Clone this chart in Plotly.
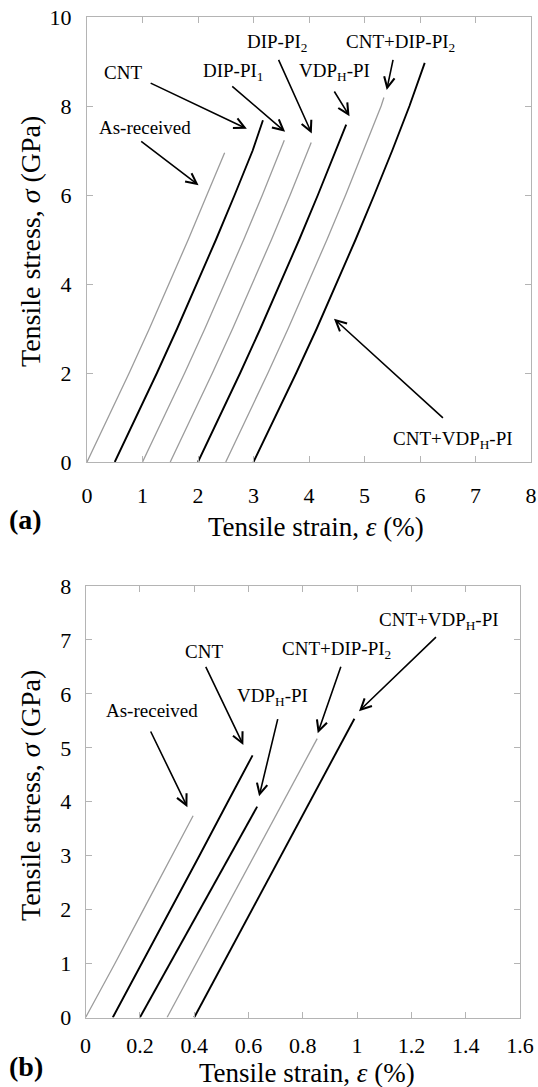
import plotly.graph_objects as go

# ---------------- Panel (a) data: tensile strain (%) vs tensile stress (GPa)
a_names = ["As-received", "CNT", "DIP-PI1", "DIP-PI2", "VDPH-PI", "CNT+DIP-PI2", "CNT+VDPH-PI"]
a_dark = [False, True, False, False, True, False, True]

a_strain_as_received = [0.000, 0.385, 0.760, 1.125, 1.480, 1.825, 2.160, 2.480]
a_stress_as_received = [0, 1, 2, 3, 4, 5, 6, 6.95]
a_strain_cnt = [0.500, 0.885, 1.260, 1.625, 1.980, 2.325, 2.660, 2.985, 3.170]
a_stress_cnt = [0, 1, 2, 3, 4, 5, 6, 7, 7.68]
a_strain_dip1 = [1.000, 1.385, 1.760, 2.125, 2.480, 2.825, 3.160, 3.485, 3.555]
a_stress_dip1 = [0, 1, 2, 3, 4, 5, 6, 7, 7.23]
a_strain_dip2 = [1.500, 1.885, 2.260, 2.625, 2.980, 3.325, 3.660, 3.985, 4.040]
a_stress_dip2 = [0, 1, 2, 3, 4, 5, 6, 7, 7.18]
a_strain_vdp = [2.000, 2.385, 2.760, 3.125, 3.480, 3.825, 4.160, 4.485, 4.670]
a_stress_vdp = [0, 1, 2, 3, 4, 5, 6, 7, 7.58]
a_strain_cnt_dip = [2.500, 2.885, 3.260, 3.625, 3.980, 4.325, 4.660, 4.985, 5.300, 5.350]
a_stress_cnt_dip = [0, 1, 2, 3, 4, 5, 6, 7, 8, 8.19]
a_strain_cnt_vdp = [3.000, 3.390, 3.770, 4.140, 4.495, 4.840, 5.175, 5.500, 5.810, 6.085]
a_stress_cnt_vdp = [0, 1, 2, 3, 4, 5, 6, 7, 8, 8.97]

# ---------------- Panel (b) data
b_names = ["As-received", "CNT", "VDPH-PI", "CNT+DIP-PI2", "CNT+VDPH-PI"]
b_dark = [False, True, True, False, True]

b_strain_as_received = [0.000, 0.055, 0.108, 0.213, 0.317, 0.396]
b_stress_as_received = [0, 0.5, 1, 2, 3, 3.74]
b_strain_cnt = [0.100, 0.207, 0.313, 0.419, 0.524, 0.615]
b_stress_cnt = [0, 1, 2, 3, 4, 4.86]
b_strain_vdp = [0.200, 0.310, 0.421, 0.531, 0.632]
b_stress_vdp = [0, 1, 2, 3, 3.91]
b_strain_cnt_dip = [0.300, 0.407, 0.514, 0.621, 0.728, 0.834, 0.853]
b_stress_cnt_dip = [0, 1, 2, 3, 4, 5, 5.17]
b_strain_cnt_vdp = [0.400, 0.507, 0.613, 0.720, 0.826, 0.933, 0.990]
b_stress_cnt_vdp = [0, 1, 2, 3, 4, 5, 5.54]

# ---------------- Label texts and their placements (text pos, arrow tail, arrow head)
a_labels = ["As-received", "CNT", "DIP-PI<sub>1</sub>", "DIP-PI<sub>2</sub>",
            "VDP<sub>H</sub>-PI", "CNT+DIP-PI<sub>2</sub>", "CNT+VDP<sub>H</sub>-PI"]
a_text_xy = [(1.05, 7.51), (0.65, 8.76), (2.64, 8.76), (3.44, 9.42), (4.46, 8.76), (5.64, 9.42), (6.59, 0.49)]
a_tail_xy = [(0.95, 7.23), (1.12, 8.53), (2.59, 8.47), (3.44, 9.07), (4.44, 8.36), (5.52, 9.07), (6.44, 0.96)]
a_head_xy = [(2.01, 6.22), (2.88, 7.49), (3.57, 7.42), (4.05, 7.38), (4.73, 7.77), (5.40, 8.36), (4.45, 3.22)]

b_labels = ["As-received", "CNT", "VDP<sub>H</sub>-PI", "CNT+DIP-PI<sub>2</sub>", "CNT+VDP<sub>H</sub>-PI"]
b_text_xy = [(0.243, 5.69), (0.437, 6.79), (0.690, 5.94), (0.923, 6.82), (1.303, 7.35)]
b_tail_xy = [(0.237, 5.33), (0.440, 6.53), (0.709, 5.56), (0.942, 6.53), (1.296, 7.08)]
b_head_xy = [(0.375, 3.90), (0.581, 5.05), (0.639, 4.10), (0.855, 5.27), (1.007, 5.68)]

a_xticks = [0, 1, 2, 3, 4, 5, 6, 7, 8]
a_yticks = [0, 2, 4, 6, 8, 10]
b_xticks = [0, 0.2, 0.4, 0.6, 0.8, 1, 1.2, 1.4, 1.6]
b_yticks = [0, 1, 2, 3, 4, 5, 6, 7, 8]

FONT = "Liberation Serif"
GRAY = "#9c9c9c"
AXC = "#b4b4b4"

a_series = [
    (a_strain_as_received, a_stress_as_received),
    (a_strain_cnt, a_stress_cnt),
    (a_strain_dip1, a_stress_dip1),
    (a_strain_dip2, a_stress_dip2),
    (a_strain_vdp, a_stress_vdp),
    (a_strain_cnt_dip, a_stress_cnt_dip),
    (a_strain_cnt_vdp, a_stress_cnt_vdp),
]
b_series = [
    (b_strain_as_received, b_stress_as_received),
    (b_strain_cnt, b_stress_cnt),
    (b_strain_vdp, b_stress_vdp),
    (b_strain_cnt_dip, b_stress_cnt_dip),
    (b_strain_cnt_vdp, b_stress_cnt_vdp),
]

fig = go.Figure()
for name, dark, (xs, ys) in zip(a_names, a_dark, a_series):
    fig.add_trace(go.Scatter(x=xs, y=ys, mode="lines", name=name, xaxis="x", yaxis="y",
                             line=dict(color="black" if dark else GRAY, width=1.9 if dark else 1.3),
                             showlegend=False))
for name, dark, (xs, ys) in zip(b_names, b_dark, b_series):
    fig.add_trace(go.Scatter(x=xs, y=ys, mode="lines", name=name, xaxis="x2", yaxis="y2",
                             line=dict(color="black" if dark else GRAY, width=1.9 if dark else 1.3),
                             showlegend=False))

# Page body margin is reset to 0 (see post_script), so figure pixels = page pixels.
W, H = 538, 1087


def fx(px):
    return px / W


def fy(py):
    return 1 - py / H


def axis_style(**kw):
    d = dict(showline=True, linecolor=AXC, linewidth=1, mirror="ticks", ticks="inside",
             ticklen=6, tickcolor=AXC, tickwidth=1, showgrid=False, zeroline=False,
             automargin=False, ticklabeloverflow="allow",
             tickfont=dict(family=FONT, size=22, color="black"))
    d.update(kw)
    return d


fig.update_layout(
    template="none",
    width=W, height=H, margin=dict(l=0, r=0, t=0, b=0, autoexpand=False),
    paper_bgcolor="white", plot_bgcolor="white",
    font=dict(family=FONT, color="black"),
    xaxis=axis_style(domain=[fx(87), fx(531)], range=[0, 8], tickvals=a_xticks,
                     anchor="y", ticklabelstandoff=14),
    yaxis=axis_style(domain=[fy(462), fy(17)], range=[0, 10], tickvals=a_yticks,
                     anchor="x", ticklabelstandoff=10),
    xaxis2=axis_style(domain=[fx(85.6), fx(520)], range=[0, 1.6], tickvals=b_xticks,
                      anchor="y2", ticklabelstandoff=8),
    yaxis2=axis_style(domain=[fy(1017.5), fy(586)], range=[0, 8], tickvals=b_yticks,
                      anchor="x2", ticklabelstandoff=9),
)

ann = []


def add_labels(labels, txy, tail, head, xr, yr):
    for lab, (tx, ty), (ax, ay), (hx, hy) in zip(labels, txy, tail, head):
        ann.append(dict(x=tx, y=ty, xref=xr, yref=yr, text=lab, showarrow=False,
                        font=dict(family=FONT, size=19, color="black")))
        ann.append(dict(x=hx, y=hy, ax=ax, ay=ay, xref=xr, yref=yr, axref=xr, ayref=yr,
                        text="", showarrow=True, arrowhead=5, arrowsize=1.3,
                        arrowwidth=1.6, arrowcolor="black", standoff=0, startstandoff=0))


add_labels(a_labels, a_text_xy, a_tail_xy, a_head_xy, "x", "y")
add_labels(b_labels, b_text_xy, b_tail_xy, b_head_xy, "x2", "y2")

# axis titles and panel letters
for (px, py, txt, ang) in [
    (316, 527, "Tensile strain, <i>ε</i> (%)", 0),
    (307, 1073, "Tensile strain, <i>ε</i> (%)", 0),
    (30, 242, "Tensile stress, <i>σ</i> (GPa)", -90),
    (30, 796, "Tensile stress, <i>σ</i> (GPa)", -90),
]:
    ann.append(dict(x=fx(px), y=fy(py), xref="paper", yref="paper", text=txt,
                    showarrow=False, textangle=ang, xanchor="center", yanchor="middle",
                    font=dict(family=FONT, size=27 if ang == 0 else 28, color="black")))
for (px, py, txt) in [(25, 519, "<b>(a)</b>"), (26, 1066, "<b>(b)</b>")]:
    ann.append(dict(x=fx(px), y=fy(py), xref="paper", yref="paper", text=txt,
                    showarrow=False, xanchor="center", yanchor="middle",
                    font=dict(family=FONT, size=28, color="black")))

fig.update_layout(annotations=ann, hovermode=False, dragmode=False)
fig.write_html("out.html",
               config={"displayModeBar": False, "staticPlot": True},
               post_script="document.body.style.margin='0px';document.body.style.overflow='hidden';")
